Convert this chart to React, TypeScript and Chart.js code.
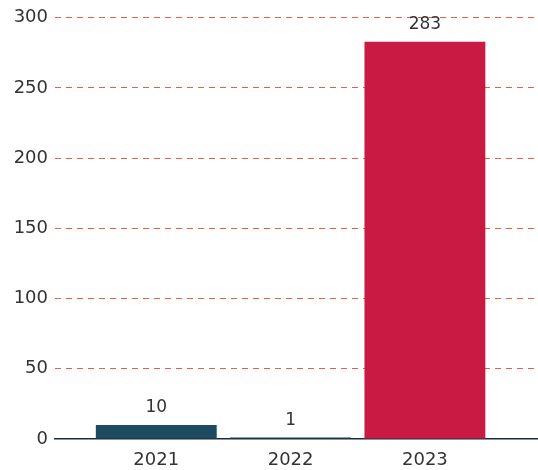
import React, { useEffect, useRef } from "react";
import { Chart, registerables } from "chart.js";

Chart.register(...registerables);

const years = ["2021", "2022", "2023"];
const values = [10, 1, 283];
const barColors = ["#1d4b62", "#1d3d52", "#c91a43"];
const yMax = 300;
const yStep = 50;

const FONT = "'DejaVu Sans', 'Liberation Sans', Arial, sans-serif";

const labelPlugin = {
  id: "barLabels",
  afterDatasetsDraw(chart: any) {
    const ctx = chart.ctx;
    const meta = chart.getDatasetMeta(0);
    ctx.save();
    ctx.font = `17px ${FONT}`;
    ctx.fillStyle = "#333333";
    ctx.textAlign = "center";
    ctx.textBaseline = "middle";
    meta.data.forEach((bar: any, i: number) => {
      ctx.fillText(String(values[i]), bar.x, bar.y - 17);
    });
    ctx.restore();
  },
};

export default function App() {
  const ref = useRef<HTMLCanvasElement | null>(null);
  useEffect(() => {
    if (!ref.current) return;
    const chart = new Chart(ref.current, {
      type: "bar",
      data: {
        datasets: [
          {
            data: years.map((_, i) => ({ x: i, y: values[i] })),
            backgroundColor: barColors,
            borderWidth: 0,
            barPercentage: 1,
            categoryPercentage: 0.9,
          },
        ],
      },
      plugins: [labelPlugin],
      options: {
        animation: false,
        responsive: true,
        maintainAspectRatio: false,
        layout: { padding: { top: 17, right: 0, bottom: 4, left: 0 } },
        plugins: { legend: { display: false }, tooltip: { enabled: false } },
        scales: {
          x: {
            type: "linear",
            offset: false,
            min: -0.754,
            max: 2.842,
            afterBuildTicks: (scale: any) => {
              scale.ticks = years.map((_, i) => ({ value: i }));
            },
            afterFit: (scale: any) => {
              scale.height = 27;
            },
            grid: { display: false, drawTicks: false },
            border: { display: true, color: "#1c2a36", width: 1.5 },
            ticks: {
              autoSkip: false,
              maxRotation: 0,
              padding: 11,
              color: "#333333",
              font: { family: FONT, size: 18 },
              callback: (v: any) => {
                const n = Math.round(Number(v));
                return years[n] ?? "";
              },
            },
          },
          y: {
            min: 0,
            max: yMax,
            afterFit: (scale: any) => {
              scale.width = 55;
            },
            grid: {
              color: (c: any) => (c.index === 0 ? "rgba(0,0,0,0)" : "#e6603f"),
              lineWidth: 1,
              drawTicks: false,
            },
            border: { display: false, dash: [6, 5] },
            ticks: {
              stepSize: yStep,
              padding: 7,
              color: "#333333",
              font: { family: FONT, size: 18 },
            },
          },
        },
      },
    });
    return () => chart.destroy();
  }, []);
  return (
    <div style={{ position: "fixed", left: 0, top: 0, width: 538, height: 470, background: "#ffffff" }}>
      <canvas ref={ref} />
    </div>
  );
}
